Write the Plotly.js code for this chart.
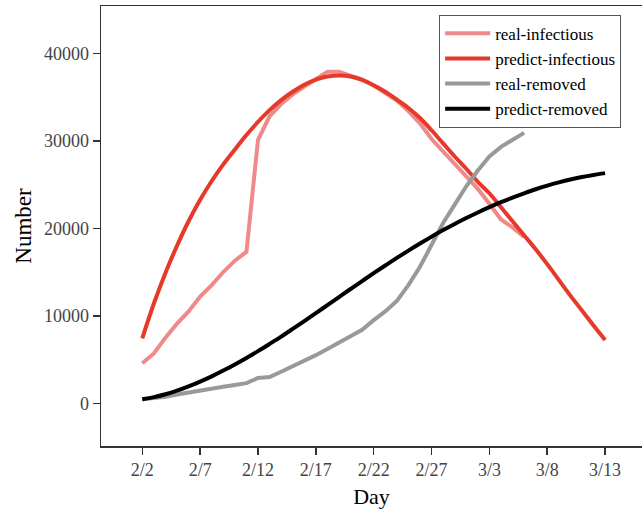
<!DOCTYPE html>
<html>
<head>
<meta charset="utf-8">
<script src="https://cdn.plot.ly/plotly-3.0.1.min.js"></script>
<style>html,body{margin:0;padding:0;background:#fff;overflow:hidden;}#chart{width:642px;height:515px;}</style>
</head>
<body>
<div id="chart"></div>
<script>
// Day index: 0 = 2/2 (2020), 40 = 3/13
var tickDays = [0, 5, 10, 15, 20, 25, 30, 35, 40];
var tickLabels = ['2/2', '2/7', '2/12', '2/17', '2/22', '2/27', '3/3', '3/8', '3/13'];
var yTickVals = [0, 10000, 20000, 30000, 40000];
var yTickLabels = ['0', '10000', '20000', '30000', '40000'];

var realDays = [0,1,2,3,4,5,6,7,8,9,10,11,12,13,14,15,16,17,18,19,20,21,22,23,24,25,26,27,28,29,30,31,32,33];
var predDays = [0,1,2,3,4,5,6,7,8,9,10,11,12,13,14,15,16,17,18,19,20,21,22,23,24,25,26,27,28,29,30,31,32,33,34,35,36,37,38,39,40];

var realInfectious = [4570, 5700, 7500, 9100, 10500, 12200, 13500, 15000, 16300, 17300,
  30100, 32800, 34200, 35300, 36200, 37000, 37900, 37900, 37500, 37000,
  36300, 35500, 34600, 33400, 32000, 30200, 28800, 27300, 26000, 24500,
  22800, 21000, 20100, 19000];

var predictInfectious = [7430, 11400, 14900, 18000, 20800, 23250, 25400, 27300, 29000, 30650,
  32150, 33500, 34650, 35600, 36400, 37000, 37350, 37450, 37350, 36950,
  36350, 35600, 34700, 33750, 32600, 31200, 29700, 28200, 26800, 25300,
  24000, 22400, 20800, 19200, 17600, 15900, 14100, 12300, 10600, 8900, 7230];

var realRemoved = [460, 600, 750, 1000, 1250, 1500, 1700, 1900, 2100, 2300,
  2900, 3000, 3600, 4200, 4800, 5500, 6200, 6900, 7600, 8400,
  9500, 10500, 11700, 13500, 15600, 18000, 20600, 22700, 24800, 26600,
  28200, 29300, 30100, 30900];

var predictRemoved = [460, 700, 1030, 1440, 1930, 2480, 3080, 3740, 4440, 5180,
  5960, 6780, 7620, 8500, 9390, 10300, 11220, 12140, 13060, 13970,
  14870, 15750, 16610, 17450, 18260, 19040, 19790, 20500, 21170, 21810,
  22410, 22980, 23510, 24000, 24460, 24870, 25240, 25570, 25850, 26090, 26300];

var serif = 'Liberation Serif, Times New Roman, serif';

var traces = [
  {x: realDays, y: realInfectious, name: 'real-infectious', mode: 'lines',
   line: {color: '#f08a8a', width: 4}},
  {x: predDays, y: predictInfectious, name: 'predict-infectious', mode: 'lines',
   line: {color: '#e5392a', width: 4, shape: 'spline', smoothing: 1}},
  {x: realDays, y: realRemoved, name: 'real-removed', mode: 'lines',
   line: {color: '#999999', width: 4}},
  {x: predDays, y: predictRemoved, name: 'predict-removed', mode: 'lines',
   line: {color: '#000000', width: 4, shape: 'spline', smoothing: 1}}
];

var layout = {
  width: 642, height: 515,
  margin: {l: 101, r: 0, t: 6, b: 69},
  paper_bgcolor: '#ffffff', plot_bgcolor: '#ffffff',
  font: {family: serif, color: '#000'},
  xaxis: {
    range: [-3.57, 43.19],
    tickvals: tickDays, ticktext: tickLabels,
    ticks: 'outside', ticklen: 7, tickwidth: 1.5, tickcolor: '#333',
    showline: true, linecolor: '#333', linewidth: 1.5, mirror: true,
    showgrid: false, zeroline: false,
    tickfont: {family: serif, size: 18, color: '#444'},
    title: {text: 'Day', font: {family: serif, size: 22, color: '#000'}, standoff: 9}
  },
  yaxis: {
    range: [-4880, 45400],
    tickvals: yTickVals, ticktext: yTickLabels,
    ticks: 'outside', ticklen: 7, tickwidth: 1.5, tickcolor: '#333',
    showline: true, linecolor: '#333', linewidth: 1.5,
    showgrid: false, zeroline: false,
    tickfont: {family: serif, size: 18, color: '#444'},
    title: {text: 'Number', font: {family: serif, size: 23, color: '#000'}, standoff: 6}
  },
  legend: {
    x: 0.625, y: 0.98, xanchor: 'left', yanchor: 'top',
    bgcolor: '#ffffff', bordercolor: '#555', borderwidth: 1,
    font: {family: serif, size: 17, color: '#000'},
    itemwidth: 45, tracegroupgap: 0
  },
  showlegend: true
};

Plotly.newPlot('chart', traces, layout, {displayModeBar: false, staticPlot: true});
</script>
</body>
</html>
